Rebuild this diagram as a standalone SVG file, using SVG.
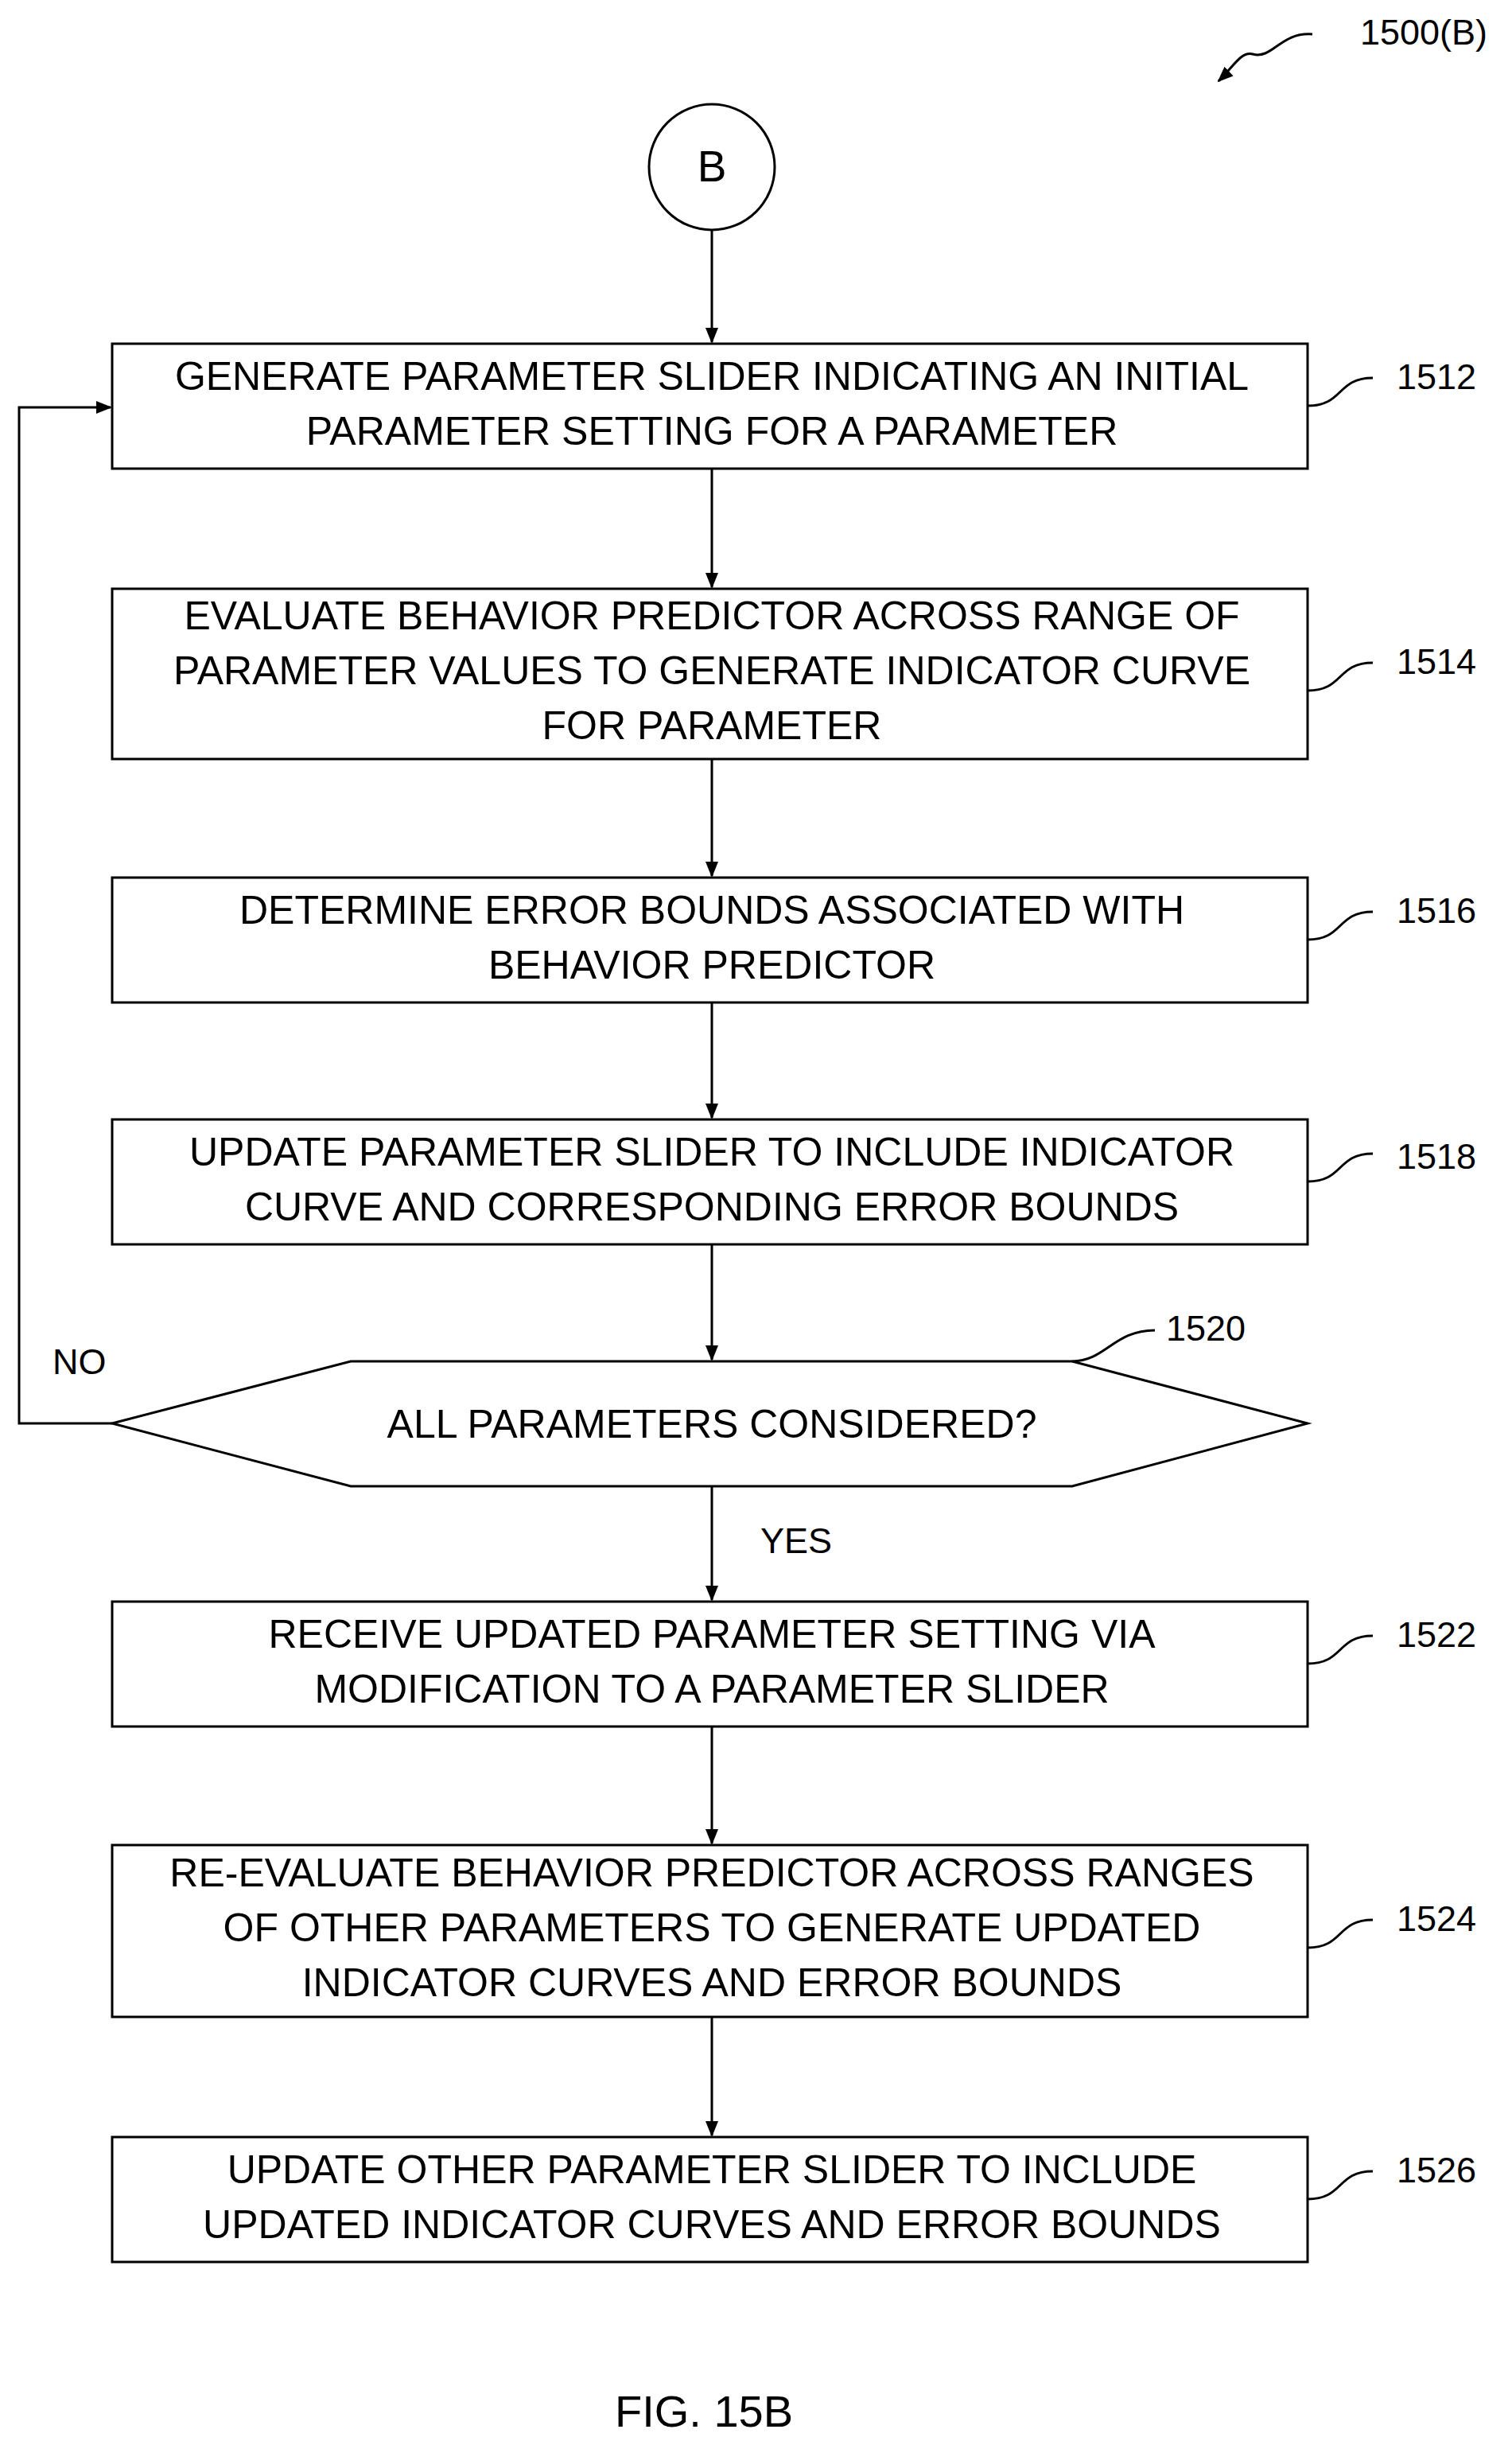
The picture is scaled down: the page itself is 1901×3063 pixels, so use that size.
<svg xmlns="http://www.w3.org/2000/svg" width="1901" height="3063" viewBox="0 0 1901 3063">
<style>
.b{fill:#fff;stroke:#000;stroke-width:3}
.t{font-family:"Liberation Sans",Arial,sans-serif;font-size:50px;text-anchor:middle;fill:#000}
.l{font-family:"Liberation Sans",Arial,sans-serif;font-size:45px;fill:#000}
.c{fill:none;stroke:#000;stroke-width:3}
</style>
<defs>
<marker id="a2" markerWidth="20" markerHeight="20" refX="18" refY="10" orient="auto" markerUnits="userSpaceOnUse" viewBox="0 0 20 20"><path d="M0,2 L20,10 L0,18 z" fill="#000"/></marker></defs>
<g id="connectors">
<line class="c" x1="895" y1="289" x2="895" y2="430" marker-end="url(#a2)"/>
<line class="c" x1="895" y1="589" x2="895" y2="738" marker-end="url(#a2)"/>
<line class="c" x1="895" y1="954" x2="895" y2="1101" marker-end="url(#a2)"/>
<line class="c" x1="895" y1="1260" x2="895" y2="1405" marker-end="url(#a2)"/>
<line class="c" x1="895" y1="1564" x2="895" y2="1709" marker-end="url(#a2)"/>
<line class="c" x1="895" y1="1868" x2="895" y2="2011" marker-end="url(#a2)"/>
<line class="c" x1="895" y1="2170" x2="895" y2="2317" marker-end="url(#a2)"/>
<line class="c" x1="895" y1="2535" x2="895" y2="2684" marker-end="url(#a2)"/>
<polyline class="c" points="141,1789 24,1789 24,512 139,512" marker-end="url(#a2)"/>
<text class="l" x="66" y="1727">NO</text>
<text class="l" x="956" y="1952">YES</text>
</g>
<g id="B"><circle class="b" cx="895" cy="210" r="79"/><text class="t" x="895" y="228" style="font-size:55px">B</text></g>
<g id="n1512"><rect class="b" x="141" y="432" width="1503" height="157"/>
<text class="t" x="895" y="490">GENERATE PARAMETER SLIDER INDICATING AN INITIAL</text>
<text class="t" x="895" y="559">PARAMETER SETTING FOR A PARAMETER</text>
<path class="c" d="M1644,510 C1690,510 1680,475 1726,475"/><text class="l" x="1756" y="489">1512</text></g>
<g id="n1514"><rect class="b" x="141" y="740" width="1503" height="214"/>
<text class="t" x="895" y="791">EVALUATE BEHAVIOR PREDICTOR ACROSS RANGE OF</text>
<text class="t" x="895" y="860">PARAMETER VALUES TO GENERATE INDICATOR CURVE</text>
<text class="t" x="895" y="929">FOR PARAMETER</text>
<path class="c" d="M1644,868 C1690,868 1680,833 1726,833"/><text class="l" x="1756" y="847">1514</text></g>
<g id="n1516"><rect class="b" x="141" y="1103" width="1503" height="157"/>
<text class="t" x="895" y="1161">DETERMINE ERROR BOUNDS ASSOCIATED WITH</text>
<text class="t" x="895" y="1230">BEHAVIOR PREDICTOR</text>
<path class="c" d="M1644,1181 C1690,1181 1680,1146 1726,1146"/><text class="l" x="1756" y="1160">1516</text></g>
<g id="n1518"><rect class="b" x="141" y="1407" width="1503" height="157"/>
<text class="t" x="895" y="1465">UPDATE PARAMETER SLIDER TO INCLUDE INDICATOR</text>
<text class="t" x="895" y="1534">CURVE AND CORRESPONDING ERROR BOUNDS</text>
<path class="c" d="M1644,1485 C1690,1485 1680,1450 1726,1450"/><text class="l" x="1756" y="1469">1518</text></g>
<g id="n1520"><polygon class="b" points="141,1789 441,1711 1348,1711 1644,1789 1348,1868 441,1868"/>
<text class="t" x="895" y="1807">ALL PARAMETERS CONSIDERED?</text>
<path class="c" d="M1348,1711 C1390,1711 1400,1672 1452,1672"/><text class="l" x="1466" y="1685">1520</text></g>
<g id="n1522"><rect class="b" x="141" y="2013" width="1503" height="157"/>
<text class="t" x="895" y="2071">RECEIVE UPDATED PARAMETER SETTING VIA</text>
<text class="t" x="895" y="2140">MODIFICATION TO A PARAMETER SLIDER</text>
<path class="c" d="M1644,2091 C1690,2091 1680,2056 1726,2056"/><text class="l" x="1756" y="2070">1522</text></g>
<g id="n1524"><rect class="b" x="141" y="2319" width="1503" height="216"/>
<text class="t" x="895" y="2371">RE-EVALUATE BEHAVIOR PREDICTOR ACROSS RANGES</text>
<text class="t" x="895" y="2440">OF OTHER PARAMETERS TO GENERATE UPDATED</text>
<text class="t" x="895" y="2509">INDICATOR CURVES AND ERROR BOUNDS</text>
<path class="c" d="M1644,2448 C1690,2448 1680,2413 1726,2413"/><text class="l" x="1756" y="2427">1524</text></g>
<g id="n1526"><rect class="b" x="141" y="2686" width="1503" height="157"/>
<text class="t" x="895" y="2744">UPDATE OTHER PARAMETER SLIDER TO INCLUDE</text>
<text class="t" x="895" y="2813">UPDATED INDICATOR CURVES AND ERROR BOUNDS</text>
<path class="c" d="M1644,2764 C1690,2764 1680,2729 1726,2729"/><text class="l" x="1756" y="2743">1526</text></g>
<g id="title">
<path class="c" d="M1650,43 C1610,40 1600,75 1575,68 C1560,64 1550,85 1532,102" marker-end="url(#a2)"/>
<text class="l" x="1710" y="56">1500(B)</text>
<text class="t" x="885" y="3050" style="font-size:56px">FIG. 15B</text>
</g>
</svg>
